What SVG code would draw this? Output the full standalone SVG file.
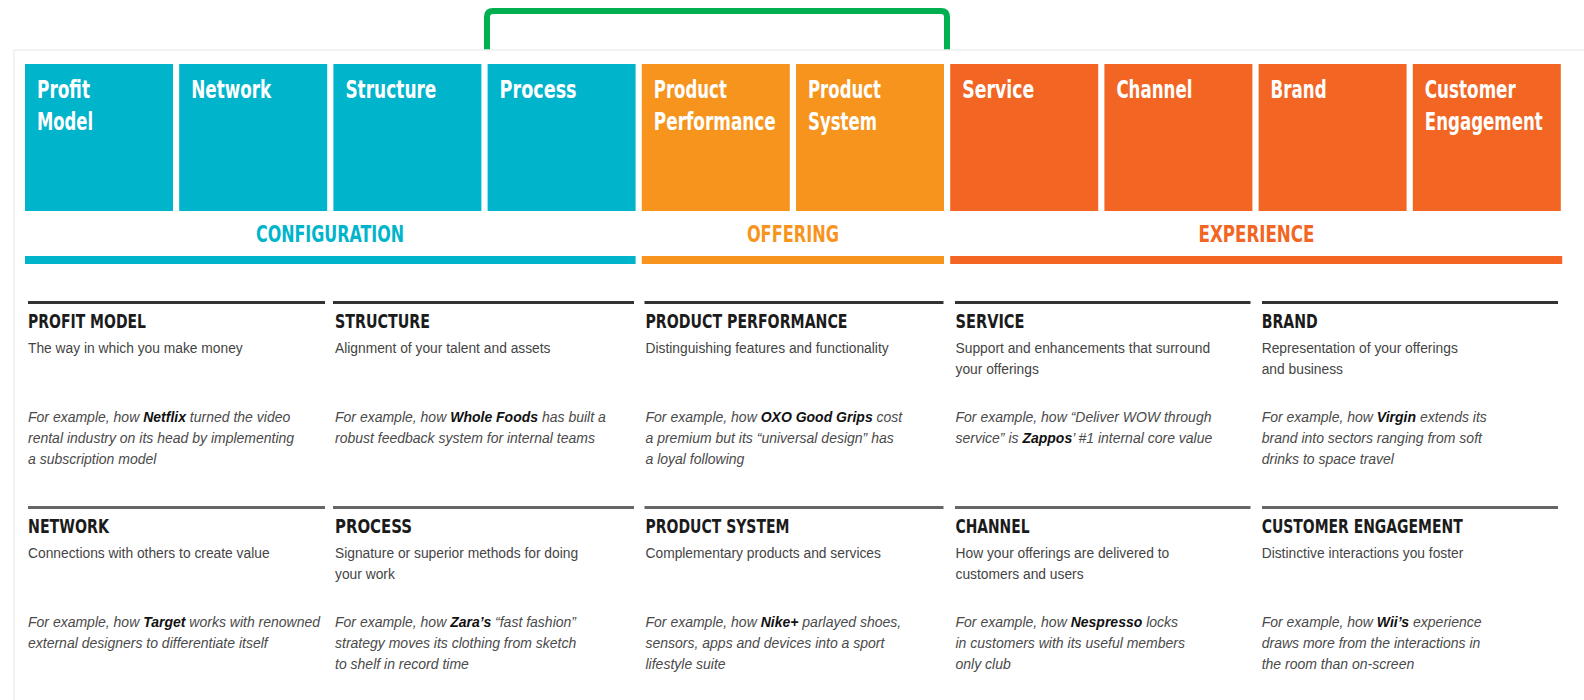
<svg xmlns="http://www.w3.org/2000/svg" width="1584" height="700" viewBox="0 0 1584 700">
<style>
.bl{font-family:"DejaVu Sans Condensed","DejaVu Sans",sans-serif;font-stretch:condensed;font-weight:bold;font-size:24px;fill:#fff}
.cat{font-family:"DejaVu Sans Condensed","DejaVu Sans",sans-serif;font-stretch:condensed;font-weight:bold;font-size:23px;text-anchor:middle}
.hdr{font-family:"DejaVu Sans Condensed","DejaVu Sans",sans-serif;font-stretch:condensed;font-weight:bold;font-size:20px;fill:#1b1b1b}
.desc{font-family:"Liberation Sans",Arial,sans-serif;font-size:13.8px;fill:#444}
.ex{font-family:"Liberation Sans",Arial,sans-serif;font-style:italic;font-size:14px;fill:#4a4a4a}
.em{font-weight:bold;fill:#111}
.cy{fill:#00B4CC}.or{fill:#F7941E}.rd{fill:#F26522}
.r1{stroke:#333;stroke-width:3}
.r2{stroke:#666;stroke-width:3}
</style>
<rect width="1584" height="700" fill="#fff"/>
<g id="connectors">
<path d="M487,50 V17 Q487,11 493,11 H941 Q947,11 947,17 V50" fill="none" stroke="#00B050" stroke-width="6"/>
</g>
<rect x="14" y="50" width="1580" height="660" fill="#fff" stroke="#f0f0f0" stroke-width="1.5"/>
<g id="box-profit-model"><rect class="cy" x="25" y="64" width="148" height="147"/><text class="bl" x="37" y="98" textLength="53" lengthAdjust="spacingAndGlyphs">Profit</text><text class="bl" x="37" y="130" textLength="56" lengthAdjust="spacingAndGlyphs">Model</text></g>
<g id="box-network"><rect class="cy" x="179.2" y="64" width="148" height="147"/><text class="bl" x="191.2" y="98" textLength="80" lengthAdjust="spacingAndGlyphs">Network</text></g>
<g id="box-structure"><rect class="cy" x="333.4" y="64" width="148" height="147"/><text class="bl" x="345.4" y="98" textLength="91" lengthAdjust="spacingAndGlyphs">Structure</text></g>
<g id="box-process"><rect class="cy" x="487.6" y="64" width="148" height="147"/><text class="bl" x="499.6" y="98" textLength="77" lengthAdjust="spacingAndGlyphs">Process</text></g>
<g id="box-product-performance"><rect class="or" x="641.8" y="64" width="148" height="147"/><text class="bl" x="653.8" y="98" textLength="73" lengthAdjust="spacingAndGlyphs">Product</text><text class="bl" x="653.8" y="130" textLength="122" lengthAdjust="spacingAndGlyphs">Performance</text></g>
<g id="box-product-system"><rect class="or" x="796" y="64" width="148" height="147"/><text class="bl" x="808" y="98" textLength="73" lengthAdjust="spacingAndGlyphs">Product</text><text class="bl" x="808" y="130" textLength="69" lengthAdjust="spacingAndGlyphs">System</text></g>
<g id="box-service"><rect class="rd" x="950.2" y="64" width="148" height="147"/><text class="bl" x="962.2" y="98" textLength="72" lengthAdjust="spacingAndGlyphs">Service</text></g>
<g id="box-channel"><rect class="rd" x="1104.4" y="64" width="148" height="147"/><text class="bl" x="1116.4" y="98" textLength="76" lengthAdjust="spacingAndGlyphs">Channel</text></g>
<g id="box-brand"><rect class="rd" x="1258.6" y="64" width="148" height="147"/><text class="bl" x="1270.6" y="98" textLength="56" lengthAdjust="spacingAndGlyphs">Brand</text></g>
<g id="box-customer-engagement"><rect class="rd" x="1412.8" y="64" width="148" height="147"/><text class="bl" x="1424.8" y="98" textLength="91" lengthAdjust="spacingAndGlyphs">Customer</text><text class="bl" x="1424.8" y="130" textLength="118" lengthAdjust="spacingAndGlyphs">Engagement</text></g>
<g id="cat-configuration"><text class="cat cy" x="330" y="242" textLength="148" lengthAdjust="spacingAndGlyphs">CONFIGURATION</text><rect class="cy" x="25" y="256" width="610.6" height="8"/></g>
<g id="cat-offering"><text class="cat or" x="792.9" y="242" textLength="92" lengthAdjust="spacingAndGlyphs">OFFERING</text><rect class="or" x="641.8" y="256" width="302.2" height="8"/></g>
<g id="cat-experience"><text class="cat rd" x="1256.5" y="242" textLength="116" lengthAdjust="spacingAndGlyphs">EXPERIENCE</text><rect class="rd" x="950.2" y="256" width="612" height="8"/></g>

<g id="desc-profit-model"><line class="r1" x1="28" y1="302.5" x2="325" y2="302.5"/>
<text class="hdr" x="28" y="328" textLength="118" lengthAdjust="spacingAndGlyphs">PROFIT MODEL</text>
<text class="desc" x="28" y="353">The way in which you make money</text>
<text class="ex" x="28" y="422">For example, how <tspan class="em">Netflix</tspan> turned the video</text>
<text class="ex" x="28" y="443">rental industry on its head by implementing</text>
<text class="ex" x="28" y="464">a subscription model</text></g>
<g id="desc-structure"><line class="r1" x1="333" y1="302.5" x2="634" y2="302.5"/>
<text class="hdr" x="335" y="328" textLength="95" lengthAdjust="spacingAndGlyphs">STRUCTURE</text>
<text class="desc" x="335" y="353">Alignment of your talent and assets</text>
<text class="ex" x="335" y="422">For example, how <tspan class="em">Whole Foods</tspan> has built a</text>
<text class="ex" x="335" y="443">robust feedback system for internal teams</text></g>
<g id="desc-product-performance"><line class="r1" x1="644.5" y1="302.5" x2="943.5" y2="302.5"/>
<text class="hdr" x="645.5" y="328" textLength="202" lengthAdjust="spacingAndGlyphs">PRODUCT PERFORMANCE</text>
<text class="desc" x="645.5" y="353">Distinguishing features and functionality</text>
<text class="ex" x="645.5" y="422">For example, how <tspan class="em">OXO Good Grips</tspan> cost</text>
<text class="ex" x="645.5" y="443">a premium but its “universal design” has</text>
<text class="ex" x="645.5" y="464">a loyal following</text></g>
<g id="desc-service"><line class="r1" x1="955" y1="302.5" x2="1250.5" y2="302.5"/>
<text class="hdr" x="955.5" y="328" textLength="69" lengthAdjust="spacingAndGlyphs">SERVICE</text>
<text class="desc" x="955.5" y="353">Support and enhancements that surround</text>
<text class="desc" x="955.5" y="374">your offerings</text>
<text class="ex" x="955.5" y="422">For example, how “Deliver WOW through</text>
<text class="ex" x="955.5" y="443">service” is <tspan class="em">Zappos</tspan>’ #1 internal core value</text></g>
<g id="desc-brand"><line class="r1" x1="1262" y1="302.5" x2="1558" y2="302.5"/>
<text class="hdr" x="1261.7" y="328" textLength="56" lengthAdjust="spacingAndGlyphs">BRAND</text>
<text class="desc" x="1261.7" y="353">Representation of your offerings</text>
<text class="desc" x="1261.7" y="374">and business</text>
<text class="ex" x="1261.7" y="422">For example, how <tspan class="em">Virgin</tspan> extends its</text>
<text class="ex" x="1261.7" y="443">brand into sectors ranging from soft</text>
<text class="ex" x="1261.7" y="464">drinks to space travel</text></g>

<g id="desc-network"><line class="r2" x1="28" y1="507.5" x2="325" y2="507.5"/>
<text class="hdr" x="28" y="533" textLength="81" lengthAdjust="spacingAndGlyphs">NETWORK</text>
<text class="desc" x="28" y="558">Connections with others to create value</text>
<text class="ex" x="28" y="627">For example, how <tspan class="em">Target</tspan> works with renowned</text>
<text class="ex" x="28" y="648">external designers to differentiate itself</text></g>
<g id="desc-process"><line class="r2" x1="333" y1="507.5" x2="634" y2="507.5"/>
<text class="hdr" x="335" y="533" textLength="77" lengthAdjust="spacingAndGlyphs">PROCESS</text>
<text class="desc" x="335" y="558">Signature or superior methods for doing</text>
<text class="desc" x="335" y="579">your work</text>
<text class="ex" x="335" y="627">For example, how <tspan class="em">Zara’s</tspan> “fast fashion”</text>
<text class="ex" x="335" y="648">strategy moves its clothing from sketch</text>
<text class="ex" x="335" y="669">to shelf in record time</text></g>
<g id="desc-product-system"><line class="r2" x1="644.5" y1="507.5" x2="943.5" y2="507.5"/>
<text class="hdr" x="645.5" y="533" textLength="144" lengthAdjust="spacingAndGlyphs">PRODUCT SYSTEM</text>
<text class="desc" x="645.5" y="558">Complementary products and services</text>
<text class="ex" x="645.5" y="627">For example, how <tspan class="em">Nike+</tspan> parlayed shoes,</text>
<text class="ex" x="645.5" y="648">sensors, apps and devices into a sport</text>
<text class="ex" x="645.5" y="669">lifestyle suite</text></g>
<g id="desc-channel"><line class="r2" x1="955" y1="507.5" x2="1250.5" y2="507.5"/>
<text class="hdr" x="955.5" y="533" textLength="74" lengthAdjust="spacingAndGlyphs">CHANNEL</text>
<text class="desc" x="955.5" y="558">How your offerings are delivered to</text>
<text class="desc" x="955.5" y="579">customers and users</text>
<text class="ex" x="955.5" y="627">For example, how <tspan class="em">Nespresso</tspan> locks</text>
<text class="ex" x="955.5" y="648">in customers with its useful members</text>
<text class="ex" x="955.5" y="669">only club</text></g>
<g id="desc-customer-engagement"><line class="r2" x1="1262" y1="507.5" x2="1558" y2="507.5"/>
<text class="hdr" x="1261.7" y="533" textLength="201" lengthAdjust="spacingAndGlyphs">CUSTOMER ENGAGEMENT</text>
<text class="desc" x="1261.7" y="558">Distinctive interactions you foster</text>
<text class="ex" x="1261.7" y="627">For example, how <tspan class="em">Wii’s</tspan> experience</text>
<text class="ex" x="1261.7" y="648">draws more from the interactions in</text>
<text class="ex" x="1261.7" y="669">the room than on-screen</text></g>
</svg>
